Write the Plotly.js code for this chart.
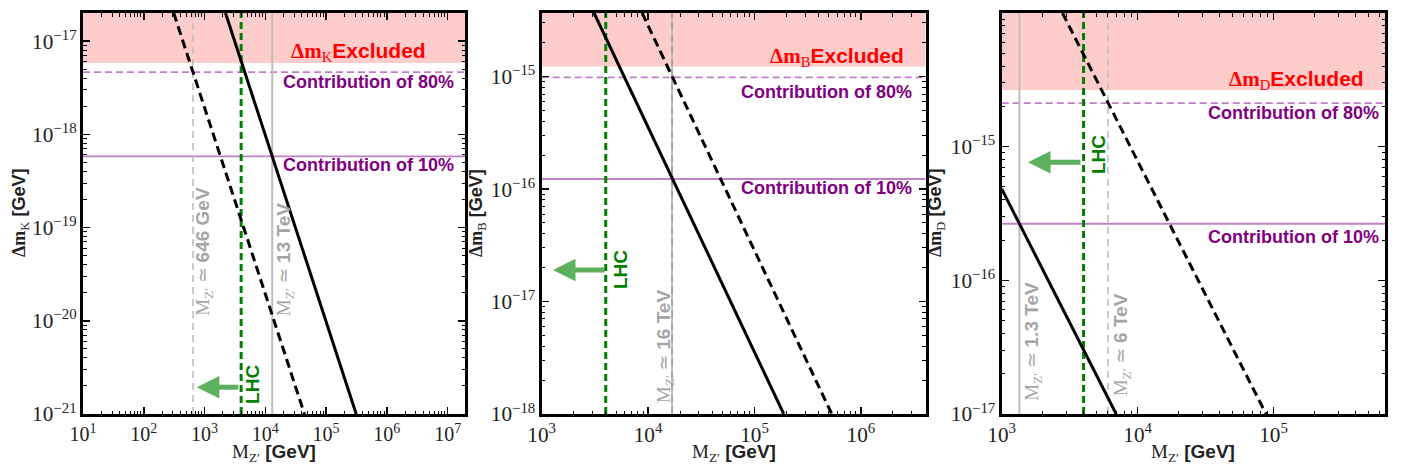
<!DOCTYPE html>
<html>
<head>
<meta charset="utf-8">
<script src="https://cdn.plot.ly/plotly-3.0.1.min.js"></script>
<style>html,body{margin:0;padding:0;background:#fff;} #chart{width:1402px;height:468px;}</style>
</head>
<body>
<div id="chart"></div>
<script>
// ---------- Data ----------
// Panel K
const kXRange = [10, 1.93e7];
const kYRange = [1e-21, 2e-17];
const kExcluded = 5.8e-18;
const kContrib80 = 4.64e-18;
const kContrib10 = 5.8e-19;
const kSolidMass = [2210, 313000];
const kSolidDm = [2e-17, 1e-21];
const kDashMass = [311, 44000];
const kDashDm = [2e-17, 1e-21];
const kLhcMass = 4000;
const kGrayDashMass = 646;
const kGraySolidMass = 13000;
const kXTickVals = [1e1, 1e2, 1e3, 1e4, 1e5, 1e6, 1e7];
const kXTickText = ['10<sup>1</sup>', '10<sup>2</sup>', '10<sup>3</sup>', '10<sup>4</sup>', '10<sup>5</sup>', '10<sup>6</sup>', '10<sup>7</sup>'];

// Panel B
const bXRange = [1000, 4.07e6];
const bYRange = [1e-18, 3.68e-15];
const bExcluded = 1.23e-15;
const bContrib80 = 0.984e-15;
const bContrib10 = 1.23e-16;
const bSolidMass = [3108, 188500];
const bSolidDm = [3.68e-15, 1e-18];
const bDashMass = [8790, 533000];
const bDashDm = [3.68e-15, 1e-18];
const bLhcMass = 4000;
const bGrayDashMass = 16800;
const bGraySolidMass = 16800;

// Panel D
const dXRange = [1000, 6.6e5];
const dYRange = [1e-17, 1e-14];
const dExcluded = 2.65e-15;
const dContrib80 = 2.12e-15;
const dContrib10 = 2.65e-16;
const dSolidMass = [1000, 6950];
const dSolidDm = [4.83e-16, 1e-17];
const dDashMass = [2800, 88000];
const dDashDm = [1e-14, 1e-17];
const dLhcMass = 4000;
const dGrayDashMass = 6050;
const dGraySolidMass = 1350;

// Text labels
const kLabels = {meson: 'K', grayDash: '646 GeV', graySolid: '13 TeV'};
const bLabels = {meson: 'B', grayDash: null, graySolid: '16 TeV'};
const dLabels = {meson: 'D', grayDash: '6 TeV', graySolid: '1.3 TeV'};

// ---------- Styles ----------
const SERIF = "'Liberation Serif', 'DejaVu Serif', serif";
const SANS = "'Liberation Sans', Arial, sans-serif";
const PURPLE_LINE = 'rgb(192,128,200)';
const PURPLE_TEXT = 'rgb(128,0,128)';
const GRAY_LINE = 'rgb(190,190,190)';
const GRAY_TEXT = 'rgb(165,165,165)';
const GREEN = 'rgb(0,128,0)';
const INK = '#222';

const W = 1402, H = 468;
const yDom = [1 - 414 / H, 1 - 13 / H];
const xDoms = [[83 / W, 465 / W], [541.7 / W, 925.7 / W], [1001.7 / W, 1385 / W]];

const traces = [];
const annotations = [];

function panel(idx, p) {
  const xa = 'x' + (idx === 1 ? '' : idx);
  const ya = 'y' + (idx === 1 ? '' : idx);
  const xr = p.xRange, yr = p.yRange;
  const base = {xaxis: xa, yaxis: ya, mode: 'lines', showlegend: false, hoverinfo: 'skip'};
  traces.push(Object.assign({}, base, {
    x: [xr[0], xr[1], xr[1], xr[0], xr[0]],
    y: [p.excluded, p.excluded, yr[1], yr[1], p.excluded],
    fill: 'toself', fillcolor: 'rgba(255,0,0,0.2)', line: {width: 0, color: 'rgba(0,0,0,0)'}
  }));
  traces.push(Object.assign({}, base, {x: xr, y: [p.c80, p.c80], line: {color: PURPLE_LINE, width: 1.8, dash: '7px,4px'}}));
  traces.push(Object.assign({}, base, {x: xr, y: [p.c10, p.c10], line: {color: PURPLE_LINE, width: 1.8}}));
  traces.push(Object.assign({}, base, {x: [p.graySolid, p.graySolid], y: yr, line: {color: GRAY_LINE, width: 2}}));
  traces.push(Object.assign({}, base, {x: [p.grayDash, p.grayDash], y: yr, line: {color: idx === 2 ? 'rgb(160,160,160)' : GRAY_LINE, width: 1.6, dash: '7px,5px'}}));
  traces.push(Object.assign({}, base, {x: [p.lhc, p.lhc], y: yr, line: {color: GREEN, width: 3, dash: '7px,4px'}}));
  traces.push(Object.assign({}, base, {x: p.solidX, y: p.solidY, line: {color: 'black', width: 3}}));
  traces.push(Object.assign({}, base, {x: p.dashX, y: p.dashY, line: {color: 'black', width: 3, dash: '9px,5px'}}));

  const xd = 'x' + (idx === 1 ? '' : idx) + ' domain';
  const yd = 'y' + (idx === 1 ? '' : idx) + ' domain';
  const A = p.ann;
  annotations.push({xref: xd, yref: yd, x: A.excl[0], y: A.excl[1], xanchor: 'right', yanchor: 'middle', showarrow: false,
    text: `<span style="font-family:${SERIF}"><b>Δm</b><sub>${p.labels.meson}</sub></span><b>Excluded</b>`,
    font: {family: SANS, size: 21, color: 'rgb(255,0,0)'}});
  annotations.push({xref: xd, yref: yd, x: A.c80[0], y: A.c80[1], xanchor: 'right', yanchor: 'middle', showarrow: false,
    text: '<b>Contribution of 80%</b>', font: {family: SANS, size: 18, color: PURPLE_TEXT}});
  annotations.push({xref: xd, yref: yd, x: A.c10[0], y: A.c10[1], xanchor: 'right', yanchor: 'middle', showarrow: false,
    text: '<b>Contribution of 10%</b>', font: {family: SANS, size: 18, color: PURPLE_TEXT}});
  annotations.push({xref: xd, yref: yd, x: A.lhc[0], y: A.lhc[1], xanchor: 'center', yanchor: 'middle', showarrow: false, textangle: -90,
    text: '<b>LHC</b>', font: {family: SANS, size: 19, color: GREEN}});
  annotations.push({xref: xd, yref: yd, x: A.arrow[0], y: A.arrow[1], ax: A.arrow[2], ay: 0, showarrow: true, text: '',
    arrowhead: 2, arrowsize: 0.9, arrowwidth: 5, arrowcolor: 'rgba(40,150,40,0.75)'});
  const grayLab = (t) => `<span style="font-family:${SERIF}">M<sub>Z′</sub> ≃ </span><b>${t}</b>`;
  if (p.labels.graySolid) annotations.push({xref: xd, yref: yd, x: A.gs[0], y: A.gs[1], xanchor: 'center', yanchor: 'bottom', showarrow: false, textangle: -90,
    text: grayLab(p.labels.graySolid), font: {family: SANS, size: 19, color: GRAY_TEXT}});
  if (p.labels.grayDash) annotations.push({xref: xd, yref: yd, x: A.gd[0], y: A.gd[1], xanchor: 'center', yanchor: 'bottom', showarrow: false, textangle: -90,
    text: grayLab(p.labels.grayDash), font: {family: SANS, size: 19, color: GRAY_TEXT}});

  // axis titles (placed as paper annotations for exact positioning)
  annotations.push({xref: 'paper', yref: 'paper', x: A.xTitleX / W, y: 1 - 453 / H, xanchor: 'center', yanchor: 'middle', showarrow: false,
    text: `<span style="font-family:${SERIF}">M<sub>Z′</sub></span> <b>[GeV]</b>`, font: {family: SANS, size: 19, color: INK}});
  annotations.push({xref: 'paper', yref: 'paper', x: A.yTitleX / W, y: 1 - 213 / H, xanchor: 'center', yanchor: 'middle', showarrow: false, textangle: -90,
    text: `<span style="font-family:${SERIF}"><b>Δm</b><sub>${p.labels.meson}</sub></span> <b>[GeV]</b>`, font: {family: SANS, size: 18, color: INK}});
}

panel(1, {xRange: kXRange, yRange: kYRange, excluded: kExcluded, c80: kContrib80, c10: kContrib10,
  solidX: kSolidMass, solidY: kSolidDm, dashX: kDashMass, dashY: kDashDm, lhc: kLhcMass,
  grayDash: kGrayDashMass, graySolid: kGraySolidMass, labels: kLabels,
  ann: {excl: [0.903, 0.903], c80: [0.976, 0.828], c10: [0.976, 0.621], lhc: [0.445, 0.075],
        arrow: [0.298, 0.067, 43], gs: [0.529, 0.239], gd: [0.317, 0.239], xTitleX: 274, yTitleX: 21}});
panel(2, {xRange: bXRange, yRange: bYRange, excluded: bExcluded, c80: bContrib80, c10: bContrib10,
  solidX: bSolidMass, solidY: bSolidDm, dashX: bDashMass, dashY: bDashDm, lhc: bLhcMass,
  grayDash: bGrayDashMass, graySolid: bGraySolidMass, labels: bLabels,
  ann: {excl: [0.949, 0.890], c80: [0.970, 0.803], c10: [0.970, 0.564], lhc: [0.204, 0.359],
        arrow: [0.0295, 0.359, 53], gs: [0.321, 0.022], gd: [0, 0], xTitleX: 733.7, yTitleX: 478}});
panel(3, {xRange: dXRange, yRange: dYRange, excluded: dExcluded, c80: dContrib80, c10: dContrib10,
  solidX: dSolidMass, solidY: dSolidDm, dashX: dDashMass, dashY: dDashDm, lhc: dLhcMass,
  grayDash: dGrayDashMass, graySolid: dGraySolidMass, labels: dLabels,
  ann: {excl: [0.950, 0.833], c80: [0.989, 0.751], c10: [0.989, 0.441], lhc: [0.251, 0.648],
        arrow: [0.0686, 0.628, 54], gs: [0.082, 0.027], gd: [0.316, 0.040], xTitleX: 1193.3, yTitleX: 937}});

function minorTicks(range) {
  const out = [];
  const lo = Math.floor(Math.log10(range[0])), hi = Math.ceil(Math.log10(range[1]));
  for (let d = lo; d < hi; d++) for (let m = 2; m <= 9; m++) {
    const v = m * Math.pow(10, d);
    if (v >= range[0] && v <= range[1]) out.push(v);
  }
  return out;
}

function axisBase(range) {
  return {
    type: 'log', range: range.map(Math.log10), dtick: 1, exponentformat: 'power',
    showline: true, linewidth: 3, linecolor: 'black', mirror: 'allticks',
    ticks: 'inside', ticklen: 7, tickwidth: 1.5, tickcolor: 'black',
    minor: {ticks: 'inside', ticklen: 3.5, tickwidth: 1, tickcolor: 'black', showgrid: false},
    showgrid: false, zeroline: false,
    tickfont: {family: SERIF, size: 17, color: INK}
  };
}

const layout = {
  width: W, height: H, margin: {l: 0, r: 0, t: 0, b: 0},
  paper_bgcolor: 'white', plot_bgcolor: 'white', showlegend: false,
  annotations: annotations
};
const ranges = [[kXRange, kYRange], [bXRange, bYRange], [dXRange, dYRange]];
ranges.forEach((r, i) => {
  const n = i === 0 ? '' : String(i + 1);
  layout['xaxis' + n] = Object.assign(axisBase(r[0]), {domain: xDoms[i], anchor: 'y' + n});
  layout['yaxis' + n] = Object.assign(axisBase(r[1]), {domain: yDom, anchor: 'x' + n});
});
// panel 1 x axis: show 10^1 explicitly
Object.assign(layout.xaxis, {
  tickmode: 'array', tickvals: kXTickVals, ticktext: kXTickText,
  tickfont: {family: SERIF, size: 20, color: INK},
  minor: {tickmode: 'array', tickvals: minorTicks(kXRange), ticks: 'inside', ticklen: 3.5, tickwidth: 1, tickcolor: 'black', showgrid: false}
});

Plotly.newPlot('chart', traces, layout, {displayModeBar: false, staticPlot: true});
</script>
</body>
</html>
